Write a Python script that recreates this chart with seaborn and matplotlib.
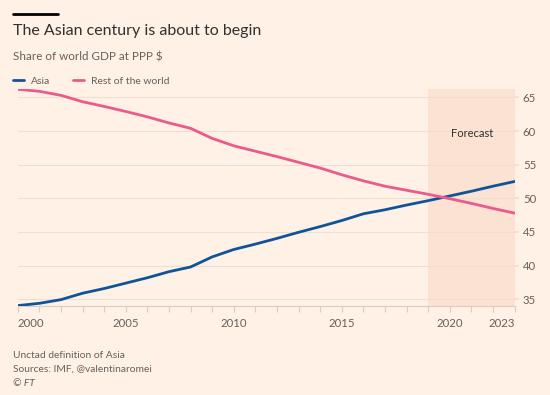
import matplotlib
matplotlib.use("Agg")
import matplotlib.pyplot as plt
from matplotlib.lines import Line2D
import seaborn as sns
import pandas as pd

# ---- data ----
years = list(range(2000, 2024))
asia = [34.06, 34.4, 34.95, 35.9, 36.6, 37.4, 38.2, 39.1, 39.8, 41.3, 42.4, 43.2,
        44.05, 44.95, 45.8, 46.7, 47.7, 48.3, 49.0, 49.65, 50.35, 51.05, 51.8, 52.5]
rest = [66.2, 65.9, 65.3, 64.35, 63.65, 62.9, 62.1, 61.2, 60.4, 58.9, 57.8, 57.0,
        56.2, 55.35, 54.5, 53.5, 52.6, 51.8, 51.2, 50.6, 49.95, 49.25, 48.5, 47.8]
series_names = ["Asia", "Rest of the world"]
ytick_values = [35, 40, 45, 50, 55, 60, 65]
xtick_labels_years = [2000, 2005, 2010, 2015, 2020, 2023]
forecast_start, forecast_end = 2019, 2023

BG = "#fff1e5"
SHADE = "#fbe2d2"
GRID = "#eddfd2"
TXT = "#66605c"
DARK = "#33302e"
palette = {"Asia": "#0f5499", "Rest of the world": "#ea5a8b"}

df = pd.DataFrame({
    "year": years * 2,
    "value": asia + rest,
    "series": [series_names[0]] * len(years) + [series_names[1]] * len(years),
})

sns.set_theme(style="white")
plt.rcParams['font.family'] = ['Lato', 'DejaVu Sans']

fig = plt.figure(figsize=(5.5, 3.95), dpi=100, facecolor=BG)
ax = fig.add_axes([17.9 / 550, 1 - 306 / 395, (514.5 - 17.9) / 550, (306 - 89.3) / 395])
ax.set_facecolor(BG)

ax.axvspan(forecast_start, forecast_end, color=SHADE, zorder=0, lw=0)
sns.lineplot(data=df, x="year", y="value", hue="series", palette=palette,
             linewidth=2.0, ax=ax, legend=False, zorder=3)

ax.set_xlim(2000, 2023)
ax.set_ylim(34.0, 66.2)
ax.set_xlabel("")
ax.set_ylabel("")

ax.yaxis.tick_right()
ax.set_yticks(ytick_values)
ax.set_yticklabels([str(v) for v in ytick_values])
ax.grid(axis="y", color=GRID, lw=0.8, zorder=1)
ax.tick_params(axis="y", length=3, color=GRID, labelsize=8.2, labelcolor=TXT, pad=3)

ax.set_xticks(years)
labels = [str(y) if y in xtick_labels_years else "" for y in years]
ax.set_xticklabels(labels)
ax.tick_params(axis="x", length=4.5, width=0.8, color="#d9ccc1", labelsize=8.2,
               labelcolor=TXT, pad=4, bottom=True)
tl = ax.get_xticklabels()
tl[0].set_ha("left")
tl[-1].set_ha("right")

for s in ["top", "left", "right"]:
    ax.spines[s].set_visible(False)
ax.spines["bottom"].set_color("#d9ccc1")
ax.spines["bottom"].set_linewidth(0.8)

ax.text(2021.05, 59.7, "Forecast", ha="center", va="center", fontsize=8.0, color=DARK)

# header
fig.add_artist(Line2D([13 / 550, 58 / 550], [1 - 13.5 / 395] * 2, color="black", lw=2.0))
fig.text(13 / 550, 1 - 31 / 395, "The Asian century is about to begin", fontsize=11.5,
         color=DARK, va="center", ha="left")
fig.text(13 / 550, 1 - 56.5 / 395, "Share of world GDP at PPP $", fontsize=8.4,
         color=TXT, va="center", ha="left")

handles = [Line2D([], [], color=palette[n], lw=2) for n in series_names]
fig.legend(handles, series_names, loc="center left", bbox_to_anchor=(13 / 550, 1 - 81 / 395),
           ncol=2, frameon=False, borderpad=0, borderaxespad=0, handlelength=1.1,
           handletextpad=0.6, columnspacing=2.2, fontsize=7.5, labelcolor=TXT)

fig.text(13 / 550, 1 - 356 / 395, "Unctad definition of Asia", fontsize=7.4, color=TXT, va="center")
fig.text(13 / 550, 1 - 369.5 / 395, "Sources: IMF, @valentinaromei", fontsize=7.4, color=TXT, va="center")
fig.text(13 / 550, 1 - 383.5 / 395, "© FT", fontsize=7.4, color=TXT, va="center", style="italic")

fig.savefig("out.png", dpi=100, facecolor=BG)
